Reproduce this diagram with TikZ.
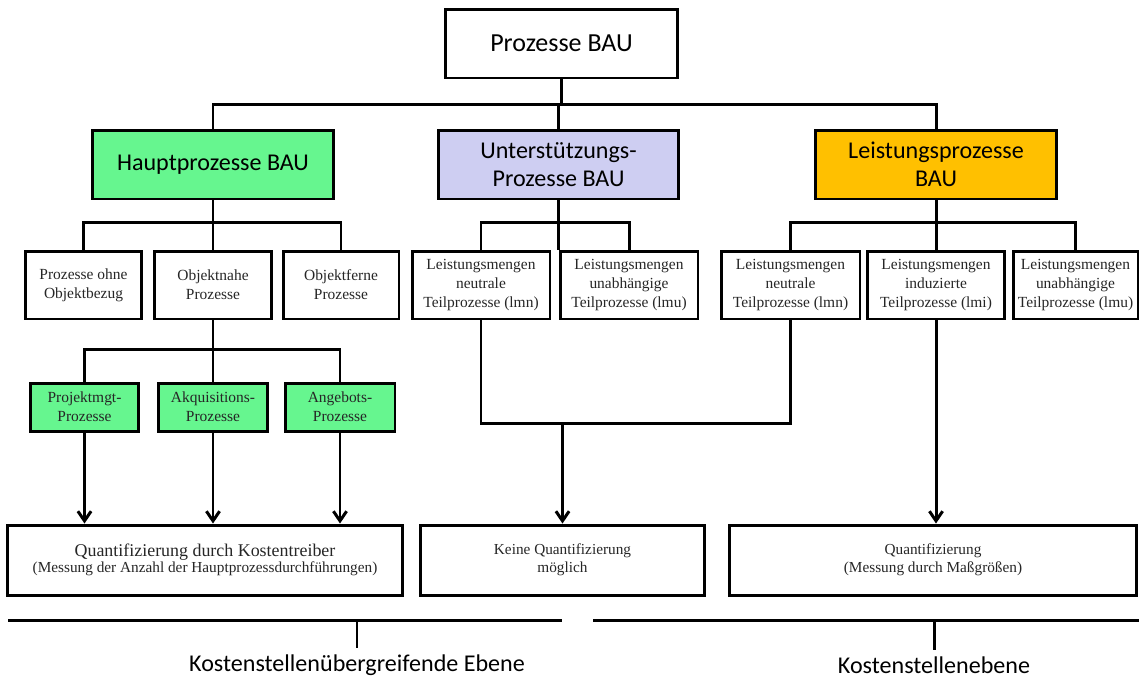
\documentclass[tikz,border=0pt]{standalone}
\usepackage{fontspec}
\setmainfont{Liberation Serif}
\newfontfamily\headfont{Carlito}
\usetikzlibrary{arrows.meta}

\definecolor{hauptgreen}{RGB}{102,246,143}
\definecolor{unterlila}{RGB}{206,206,242}
\definecolor{leistorange}{RGB}{255,192,0}

\begin{document}
\begin{tikzpicture}[x=0.02cm, y=-0.02cm, line width=1.7pt,
    procbox/.style={draw, line width=1.7pt, inner sep=0pt, align=center},
    headbox/.style={procbox, minimum width=4.82cm, minimum height=1.38cm,
      font=\headfont\fontsize{13.7}{16.2}\selectfont},
    teilbox/.style={procbox, minimum height=1.36cm, text=black!85,
      font=\fontsize{8.8}{10.8}\selectfont},
    greenbox/.style={teilbox, fill=hauptgreen, minimum width=2.18cm, minimum height=0.96cm},
    quantbox/.style={procbox, minimum height=1.4cm, text=black!85,
      font=\fontsize{8.7}{10.25}\selectfont},
    ebene/.style={font=\headfont\fontsize{13.7}{16}\selectfont, inner sep=3pt},
    pfeil/.style={-{Straight Barb[length=5.5pt,width=7.5pt]}}]
  \useasboundingbox (0,0) rectangle (1139,681);

  % Top level
  \node[procbox, minimum width=4.66cm, minimum height=1.38cm,
    font=\headfont\fontsize{14.8}{17}\selectfont] (bau) at (561.5,43.5) {Prozesse BAU};

  % Process types
  \node[headbox, fill=hauptgreen] (haupt) at (213,164.5) {Hauptprozesse BAU};
  \node[headbox, fill=unterlila] (unter) at (558.5,164.5) {Unterstützungs-\\Prozesse BAU};
  \node[headbox, fill=leistorange] (leist) at (936,164.5) {Leistungsprozesse\\BAU};

  \coordinate (j1) at (561.5,104);
  \draw (bau.south) -- (j1);
  \draw (haupt.north) |- (j1) -| (leist.north);
  \draw (unter.north) -- (unter.north |- j1);

  % Sub processes
  \node[teilbox, minimum width=2.34cm] (ohne) at (83.5,285) {Prozesse ohne\\Objektbezug};
  \node[teilbox, minimum width=2.36cm] (nahe) at (213,285) {Objektnahe\\Prozesse};
  \node[teilbox, minimum width=2.32cm] (ferne) at (341,285) {Objektferne\\Prozesse};
  \node[teilbox, minimum width=2.76cm] (lmn) at (481,285) {Leistungsmengen\\neutrale\\Teilprozesse (lmn)};
  \node[teilbox, minimum width=2.76cm] (lmu) at (629,285) {Leistungsmengen\\unabhängige\\Teilprozesse (lmu)};
  \node[teilbox, minimum width=2.78cm] (lmnb) at (790.5,285) {Leistungsmengen\\neutrale\\Teilprozesse (lmn)};
  \node[teilbox, minimum width=2.74cm] (lmi) at (936,285) {Leistungsmengen\\induzierte\\Teilprozesse (lmi)};
  \node[teilbox, minimum width=2.5cm] (lmub) at (1075.5,285) {Leistungsmengen\\unabhängige\\Teilprozesse (lmu)};

  \draw (ohne.north) -- ++(0,-27) -| (ferne.north);
  \draw (haupt.south) -- (nahe.north);
  \draw (lmn.north) -- ++(0,-27) -| (lmu.north);
  \draw (unter.south) -- (unter.south |- lmn.north);
  \draw (lmnb.north) -- ++(0,-27) -| (lmub.north);
  \draw (leist.south) -- (lmi.north);

  % Main process kinds
  \node[greenbox] (projekt) at (84.5,407) {Projektmgt-\\Prozesse};
  \node[greenbox] (akquise) at (213,407) {Akquisitions-\\Prozesse};
  \node[greenbox, minimum width=2.2cm] (angebot) at (340,407) {Angebots-\\Prozesse};

  \draw (projekt.north) -- ++(0,-32) -| (angebot.north);
  \draw (nahe.south) -- (akquise.north);

  % Quantification
  \node[quantbox, minimum width=7.92cm] (quant) at (205,560)
    {{\fontsize{10.2}{12}\selectfont Quantifizierung durch Kostentreiber}\\[-1pt]
     (Messung der Anzahl der Hauptprozessdurchführungen)};
  \node[quantbox, minimum width=5.7cm] (keine) at (562.5,560) {Keine Quantifizierung\\möglich};
  \node[quantbox, minimum width=8.16cm] (mass) at (933,560) {Quantifizierung\\(Messung durch Maßgrößen)};

  \draw[pfeil] (projekt.south) -- (projekt.south |- quant.north);
  \draw[pfeil] (akquise.south) -- (akquise.south |- quant.north);
  \draw[pfeil] (angebot.south) -- (angebot.south |- quant.north);

  \draw (lmn.south) -- ++(0,103) -| (lmnb.south);
  \coordinate (umitte) at (keine.north |- 0,422);
  \draw[pfeil] (umitte) -- (keine.north);

  \draw[pfeil] (lmi.south) -- (lmi.south |- mass.north);

  % Levels
  \coordinate (ul) at (8,620);
  \coordinate (ur) at (562,620);
  \draw (ul) -- (ur);
  \node[ebene] (ebl) at (357,665) {Kostenstellenübergreifende Ebene};
  \draw (ebl.north) -- (ebl.north |- ul);

  \coordinate (kl) at (593,620);
  \coordinate (kr) at (1139,620);
  \draw (kl) -- (kr);
  \node[ebene] (ebr) at (934,665) {Kostenstellenebene};
  \draw (ebr.north) -- (ebr.north |- kl);

\end{tikzpicture}
\end{document}
